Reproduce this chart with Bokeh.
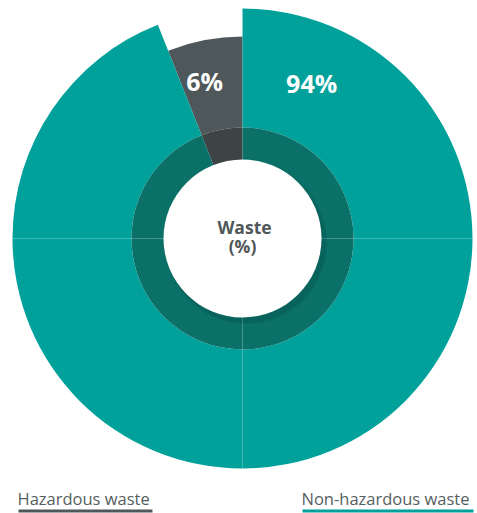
import math
from bokeh.plotting import figure
from bokeh.models import Range1d
from bokeh.core.properties import value
from bokeh.embed import file_html
from bokeh.resources import INLINE

# Waste split (%)
categories = ["Hazardous waste", "Non-hazardous waste"]
shares = [6, 94]
labels = ["6%", "94%"]
colors = ["#4e5759", "#00a19a"]
ring_colors = ["#3d4446", "#0b7168"]
outer_radius = [202, 230]
center_title = ["Waste", "(%)"]

W, H = 477, 513
cx, cy = 242, H - 238

p = figure(width=W, height=H, output_backend="svg", toolbar_location=None,
           x_range=Range1d(0, W), y_range=Range1d(0, H),
           min_border=0, outline_line_color=None)
p.axis.visible = False
p.grid.visible = False
p.background_fill_color = "white"
p.border_fill_color = "white"

FONT = value("Open Sans")

# Slices: hazardous runs counter-clockwise from 12 o'clock, the rest clockwise.
deg = math.pi / 180
haz_span = shares[0] / 100 * 360
slices = [
    (90, 90 + haz_span),            # hazardous (ccw from top)
    (90 + haz_span - 360, 90),      # non-hazardous (cw from top)
]

def split_quadrants(a0, a1):
    """Split an angular range into pieces at multiples of 90 degrees."""
    cuts = [a0]
    k = math.floor(a0 / 90) + 1
    while k * 90 < a1:
        cuts.append(k * 90)
        k += 1
    cuts.append(a1)
    return list(zip(cuts[:-1], cuts[1:]))

r_in, r_ring = 79, 111
for i, (a0, a1) in enumerate(slices):
    for s, e in split_quadrants(a0, a1):
        p.annular_wedge(x=cx, y=cy, inner_radius=r_ring, outer_radius=outer_radius[i],
                        start_angle=s * deg, end_angle=e * deg,
                        fill_color=colors[i], line_color=None)
        p.annular_wedge(x=cx, y=cy, inner_radius=r_in - 2, outer_radius=r_ring,
                        start_angle=s * deg, end_angle=e * deg,
                        fill_color=ring_colors[i], line_color=None)

# soft shadow under the centre disc
for k, a in enumerate([0.06, 0.07, 0.08, 0.09]):
    p.circle(x=cx + 2 + k, y=cy - 2 - k * 1.5, radius=r_in + 3 - k,
             fill_color="#05463f", fill_alpha=a, line_color=None)
p.circle(x=cx, y=cy, radius=r_in, fill_color="white", line_color=None)

# percentage labels
label_pos = [(-13.5, 162), (24, 170)]  # (degrees from 12 o'clock, radius)
for i, (ang, rad) in enumerate(label_pos):
    lx = cx + rad * math.sin(ang * deg)
    ly = cy + rad * math.cos(ang * deg)
    p.text(x=[lx], y=[ly], text=[labels[i]], text_font=FONT, text_font_style="bold",
           text_font_size="25px", text_color="white",
           text_align="center", text_baseline="middle")

# centre title
p.text(x=[cx + 2], y=[cy + 12], text=[center_title[0]], text_font=FONT,
       text_font_style="bold", text_font_size="17.5px", text_color="#4f5759",
       text_align="center", text_baseline="middle")
p.text(x=[cx], y=[cy - 7], text=[center_title[1]], text_font=FONT,
       text_font_style="bold", text_font_size="17.5px", text_color="#4f5759",
       text_align="center", text_baseline="middle")

# legend: text with coloured underline
legend_x = [(17, 152), (301, 473)]
for i, (x0, x1) in enumerate(legend_x):
    p.text(x=[x0], y=[H - 498], text=[categories[i]], text_font=FONT,
           text_font_size="16.5px", text_color="#555e60",
           text_align="left", text_baseline="middle")
    p.quad(left=[x0 + 1], right=[x1], bottom=[H - 512], top=[H - 509],
           fill_color=colors[i], line_color=None)

open("out.html", "w").write(file_html(p, INLINE))
